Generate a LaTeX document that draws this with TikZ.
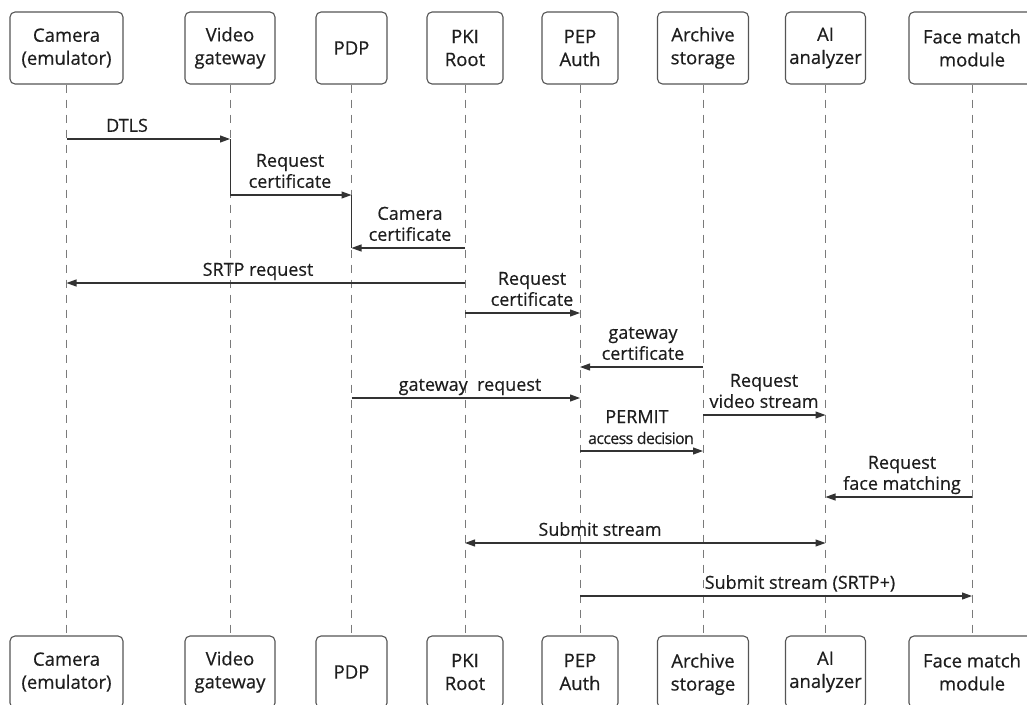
\documentclass[tikz,border=0pt]{standalone}
\usepackage{fontspec}
\setmainfont{Open Sans}[FakeBold=0.45]
\usetikzlibrary{arrows.meta}
\definecolor{ink}{HTML}{1E1E1E}
\definecolor{line}{HTML}{333333}
\definecolor{frame}{HTML}{555555}
\definecolor{life}{HTML}{7A7A7A}
\begin{document}
\begin{tikzpicture}[x=1pt,y=-1pt,
  actor/.style={draw=frame, line width=1.1pt, rounded corners=5pt, fill=white,
    align=center, text=ink, minimum height=72pt, inner sep=2pt,
    font=\fontsize{18.5}{23}\selectfont},
  lifeline/.style={draw=life, line width=0.9pt, dash pattern=on 8pt off 7pt},
  active/.style={draw=line, line width=0.9pt},
  msg/.style={draw=line, line width=1.1pt, -{Triangle[length=10pt,width=7pt]}},
  dmsg/.style={draw=line, line width=1.1pt,
    {Triangle[length=10pt,width=7pt]}-{Triangle[length=10pt,width=7pt]}},
  lbl/.style={align=center, text=ink, inner sep=0pt, anchor=south,
    text depth=4pt, font=\fontsize{18}{21}\selectfont},
]
\useasboundingbox (0,0) rectangle (1027,704);
\clip (0,0) rectangle (1027,704);

% participants, top row
\node[actor, minimum width=113pt] (camT)  at (66.5,48) {Camera\\(emulator)};
\node[actor, minimum width=90pt]  (vgT)   at (230,48)  {Video\\gateway};
\node[actor, minimum width=71pt]  (pdpT)  at (351.5,48) {PDP};
\node[actor, minimum width=76pt]  (pkiT)  at (465,48)  {PKI\\Root};
\node[actor, minimum width=76pt]  (pepT)  at (580,48)  {PEP\\Auth};
\node[actor, minimum width=91pt]  (arcT)  at (703,48)  {Archive\\storage};
\node[actor, minimum width=80pt]  (aiT)   at (825.5,48) {AI\\analyzer};
\node[actor, minimum width=126pt] (faceT) at (972,48)  {Face match\\module};

% participants, bottom row
\node[actor, minimum width=113pt] (camB)  at (66.5,672) {Camera\\(emulator)};
\node[actor, minimum width=90pt]  (vgB)   at (230,672)  {Video\\gateway};
\node[actor, minimum width=71pt]  (pdpB)  at (351.5,672) {PDP};
\node[actor, minimum width=76pt]  (pkiB)  at (465,672)  {PKI\\Root};
\node[actor, minimum width=76pt]  (pepB)  at (580,672)  {PEP\\Auth};
\node[actor, minimum width=91pt, text depth=-3pt]  (arcB)  at (703,672)  {Archive\\storage};
\node[actor, minimum width=80pt]  (aiB)   at (825.5,672) {AI\\analyzer};
\node[actor, minimum width=126pt] (faceB) at (972,672)  {Face match\\module};

% lifelines
\foreach \p in {cam,vg,pdp,pki,pep,arc,ai,face}
  \draw[lifeline] (\p T.south) -- (\p B.north);

% message levels
\coordinate (m1)  at (0,139);
\coordinate (m2)  at (0,195);
\coordinate (m3)  at (0,248);
\coordinate (m4)  at (0,283);
\coordinate (m5)  at (0,313);
\coordinate (m6)  at (0,367);
\coordinate (m7)  at (0,398);
\coordinate (m8)  at (0,415);
\coordinate (m9)  at (0,451);
\coordinate (m10) at (0,497);
\coordinate (m11) at (0,543);
\coordinate (m12) at (0,596);

% activation segments
\draw[active] (vgT |- m1) -- (vgT |- m2);
\draw[active] (pdpT |- m2) -- (pdpT |- m3);

% messages
\draw[msg] (camT |- m1) -- (vgT |- m1);
\node[lbl] at (127,136) {DTLS};

\draw[msg] (vgT |- m2) -- (pdpT |- m2);
\node[lbl] at (290,192) {Request\\certificate};

\draw[msg] (pkiT |- m3) -- (pdpT |- m3);
\node[lbl] at (410,245) {Camera\\certificate};

\draw[msg] (pkiT |- m4) -- (camT |- m4);
\node[lbl] at (258,280) {SRTP request};

\draw[msg] (pkiT |- m5) -- (pepT |- m5);
\node[lbl] at (532,310) {Request\\certificate};

\draw[msg] (arcT |- m6) -- (pepT |- m6);
\node[lbl] at (643,364) {gateway\\certificate};

\draw[msg] (pdpT |- m7) -- (pepT |- m7);
\node[lbl] at (470,395) {gateway\ \ request};

\draw[msg] (arcT |- m8) -- (aiT |- m8);
\node[lbl] at (764,412) {Request\\video stream};

\draw[msg] (pepT |- m9) -- (arcT |- m9);
\node[lbl, anchor=base, text depth=0pt] at (637,423) {PERMIT};
\node[lbl, anchor=base, text depth=0pt, font=\fontsize{16}{18}\selectfont, inner xsep=0pt]
  at (641,444) {\addfontfeature{LetterSpace=-4}access decision};

\draw[msg] (faceT |- m10) -- (aiT |- m10);
\node[lbl] at (902,494) {Request\\face matching};

\draw[dmsg] (pkiT |- m11) -- (aiT |- m11);
\node[lbl] at (600,540) {Submit stream};

\draw[msg] (pepT |- m12) -- (faceT |- m12);
\node[lbl] at (800,593) {Submit stream (SRTP+)};
\end{tikzpicture}
\end{document}
